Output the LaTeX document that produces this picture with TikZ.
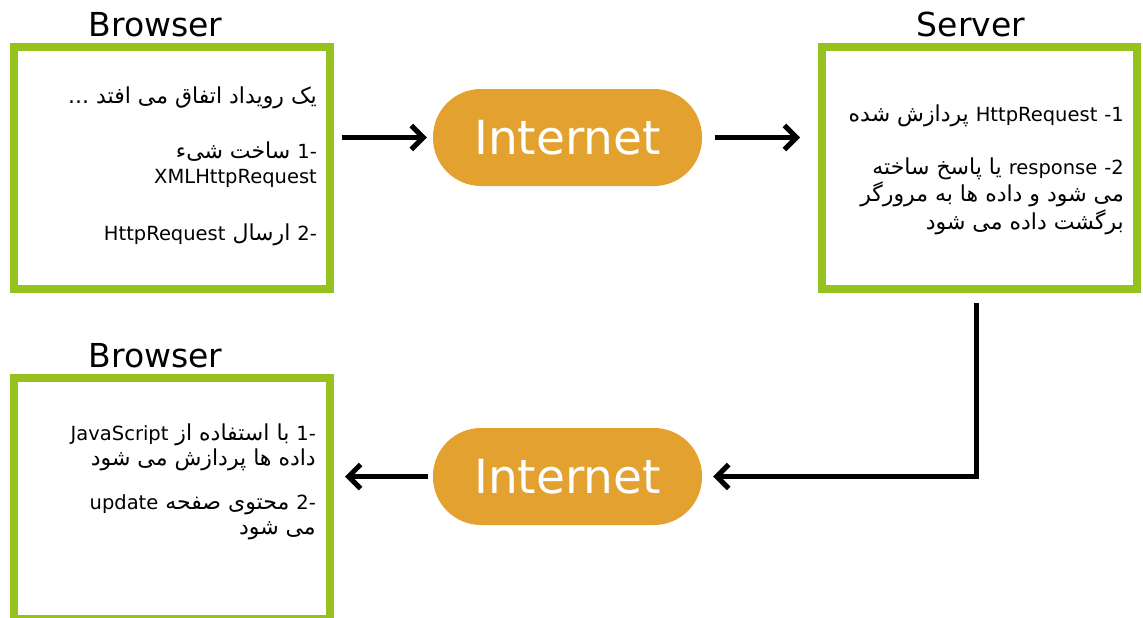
\documentclass[tikz,border=0pt]{standalone}
\usepackage{fontspec}
\setmainfont{DejaVu Sans}
\newfontfamily\persian[Script=Arabic]{DejaVu Sans}
\TeXXeTstate=1
\usetikzlibrary{positioning, arrows.meta}
\definecolor{boxgreen}{RGB}{150,193,31}
\definecolor{netorange}{RGB}{227,161,48}
\newcommand{\lat}[1]{\hbox{\rmfamily\fontsize{19.5}{25}\selectfont #1}}
\tikzset{
x=1pt, y=-1pt, % one unit is one pixel of the picture
>={Straight Barb[length=12pt, width=24pt]}, % open arrow heads
page/.style={draw=boxgreen, line width=8pt, minimum height=242pt}, % the green boxes
cloud/.style={fill=netorange, text=white, minimum width=269pt, minimum height=97pt, rounded corners=48pt, font=\fontsize{47}{50}\selectfont}, % the internet pills
title/.style={anchor=base, font=\fontsize{33}{36}\selectfont}, % box titles
note/.style={anchor=north east, inner sep=0pt, align=right, font=\persian\fontsize{22}{#1}\selectfont}, % texts in the boxes
note/.default=25pt,
flow/.style={->, line width=5pt}, % the connectors
}
\begin{document}
\begin{tikzpicture}
                \useasboundingbox (0,0) rectangle (1143,618);
                \clip (0,0) rectangle (1143,618);
                \node[page, minimum width=316pt] (b1) at (172,168) {};
                \node[page, minimum width=315pt] (srv) at (979.5,168) {};
                \node[page, minimum width=316pt, minimum height=241pt] (b2) at (172,498.5) {};
                \node[title] (t1) at (155.5,37) {Browser};
                \node[title] (t2) at (971,37) {Server};
                \node[title] (t3) at (155.5,367) {Browser};
                \node[cloud] (net1) at (567.5,137.5) {Internet};
                \node[cloud] (net2) at (567.5,476.5) {Internet};
                % numbers are two boxes, so the right-to-left line keeps their order
                \node[note] (n1) at (317,86.5) {%
                    \beginR یک رویداد اتفاق می افتد ...\endR\\[30pt]
                    \beginR \lat{-}\lat{1} ساخت شیء\endR\\
                    \lat{XMLHttpRequest}\\[32pt]
                    \beginR \lat{-}\lat{2} ارسال \lat{HttpRequest}\endR};
                \node[note=27.5pt] (n2) at (1124,105) {%
                    \beginR \lat{1}\lat{-} \lat{HttpRequest} پردازش شده\endR\\[25pt]
                    \beginR \lat{2}\lat{-} \lat{response} یا پاسخ ساخته\endR\\
                    \beginR می شود و داده ها به مرورگر\endR\\
                    \beginR برگشت داده می شود\endR};
                \node[note=25.5pt] (n3) at (316,423.5) {%
                    \beginR \lat{-}\lat{1} با استفاده از \lat{JavaScript}\endR\\
                    \beginR داده ها پردازش می شود\endR\\[18pt]
                    \beginR \lat{-}\lat{2} محتوی صفحه \lat{update}\endR\\
                    \beginR می شود\endR};
                \draw[flow, shorten <=8pt, shorten >=6pt] (net1.west -| b1.east) -- (net1.west);
                \draw[flow, shorten <=13pt, shorten >=18pt] (net1.east) -- (net1.east -| srv.west);
                \draw[flow, shorten <=10pt, shorten >=11pt] ([xshift=-3.5pt]srv.south) |- (net2.east);
                \draw[flow, shorten <=5pt, shorten >=11pt] (net2.west) -- (net2.west -| b2.east);
                \end{tikzpicture}
\end{document}
